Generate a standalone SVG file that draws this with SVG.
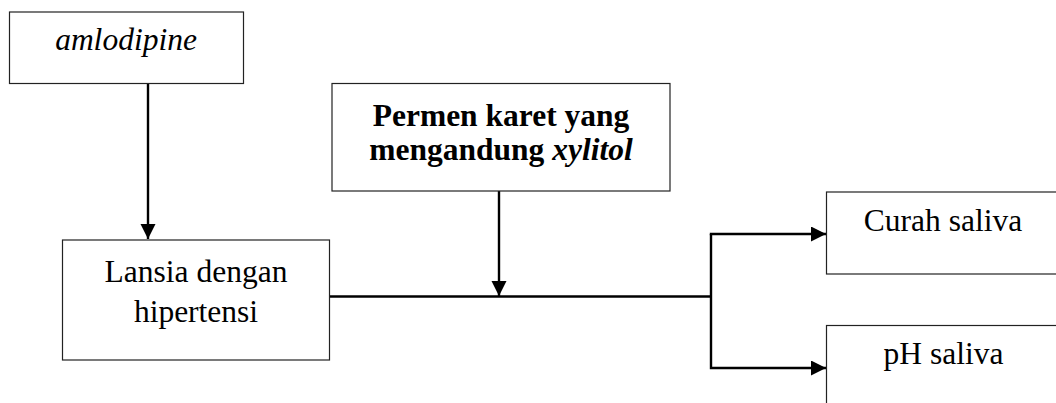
<svg xmlns="http://www.w3.org/2000/svg" width="1056" height="403" viewBox="0 0 1056 403">
<style>
.box{fill:#fff;stroke:#222;stroke-width:1.2}
.t{font-family:"Liberation Serif","Times New Roman",serif;font-size:31.5px;fill:#000;text-anchor:middle}
.b{font-weight:bold}
.i{font-style:italic}
.c{fill:none;stroke:#000;stroke-width:2.4}
</style>
<defs>
<marker id="ah" markerUnits="userSpaceOnUse" markerWidth="16" markerHeight="16" refX="15" refY="7.5" orient="auto">
<path d="M0,0 L15,7.5 L0,15 z" fill="#000"/>
</marker>
</defs>
<rect width="1056" height="403" fill="#fff"/>
<g id="connectors">
<line class="c" x1="148" y1="84" x2="148" y2="239" marker-end="url(#ah)"/>
<line class="c" x1="499" y1="191" x2="499" y2="296" marker-end="url(#ah)"/>
<line class="c" x1="329" y1="296.5" x2="711" y2="296.5"/>
<polyline class="c" points="711,234 711,368 826,368" marker-end="url(#ah)"/>
<line class="c" x1="709.8" y1="234" x2="826" y2="234" marker-end="url(#ah)"/>
</g>
<g id="amlodipine">
<rect class="box" x="9.5" y="12" width="234" height="71.5"/>
<text class="t i" x="126" y="50">amlodipine</text>
</g>
<g id="permen">
<rect class="box" x="332" y="83.5" width="338" height="107.5"/>
<text class="t b" x="501" y="126">Permen karet yang</text>
<text class="t b" x="501" y="160">mengandung <tspan class="i">xylitol</tspan></text>
</g>
<g id="lansia">
<rect class="box" x="62.5" y="240" width="267" height="120"/>
<text class="t" x="196" y="281.5">Lansia dengan</text>
<text class="t" x="196" y="321.5">hipertensi</text>
</g>
<g id="curah">
<rect class="box" x="826.5" y="192" width="240" height="82"/>
<text class="t" x="943" y="231">Curah saliva</text>
</g>
<g id="ph">
<rect class="box" x="826.5" y="325.5" width="240" height="90"/>
<text class="t" x="943.5" y="364">pH saliva</text>
</g>
</svg>
